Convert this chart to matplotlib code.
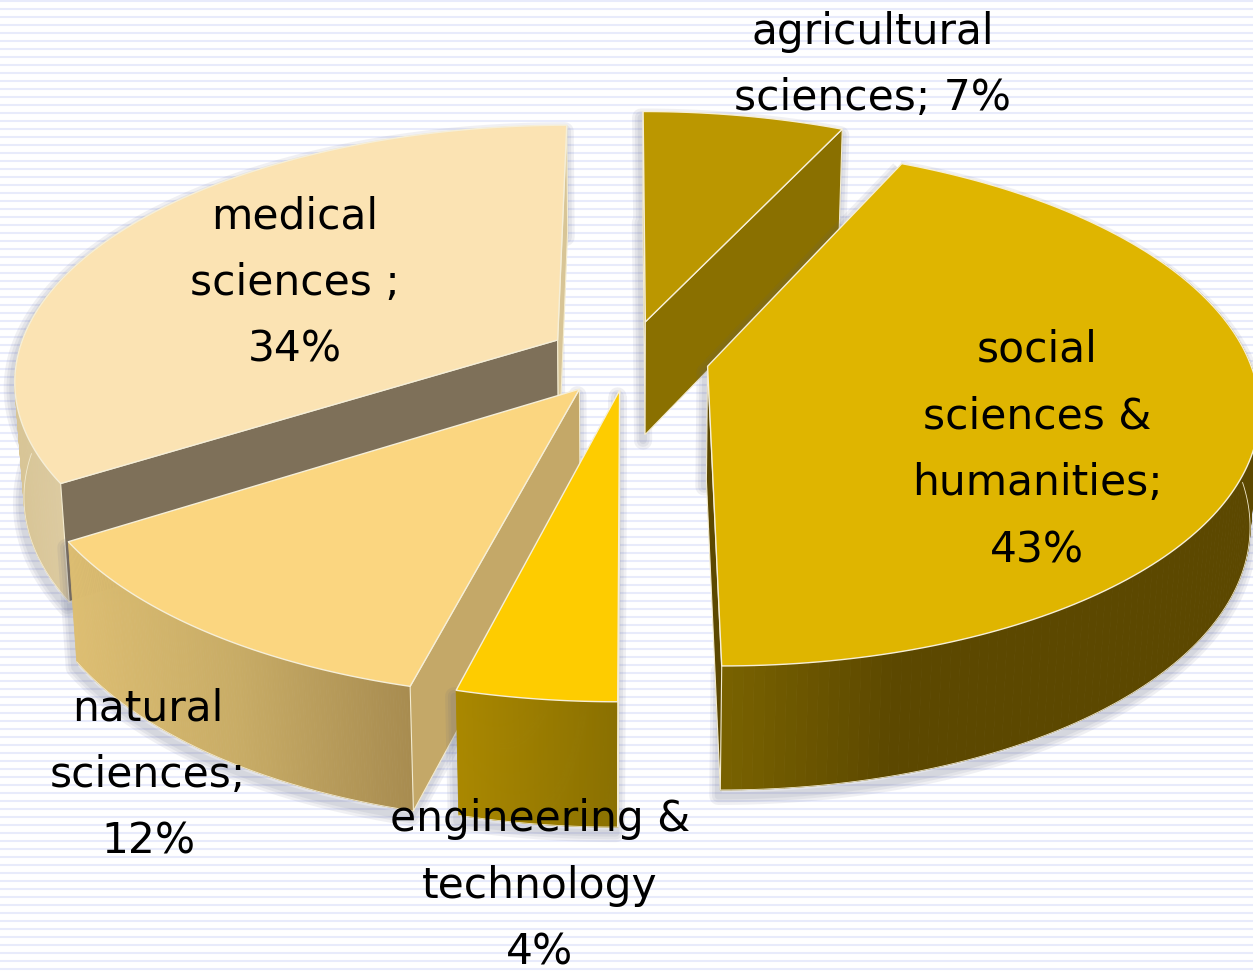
# 3D exploded pie of publications by field of science
import numpy as np
import matplotlib
matplotlib.use('Agg')
import matplotlib.pyplot as plt
from matplotlib.colors import LinearSegmentedColormap
from matplotlib.patches import Polygon

# data, clockwise from 12 o'clock
fields = ['agricultural', 'social', 'engineering', 'natural', 'medical']
values = [7, 43, 4, 12, 34]
labels = ['agricultural\nsciences; {}%', 'social\nsciences &\nhumanities;\n{}%',
          'engineering &\ntechnology\n{}%', 'natural\nsciences;\n{}%', 'medical\nsciences ;\n{}%']

# styles
top_colors = {'agricultural': '#BB9700', 'social': '#DFB500', 'engineering': '#FECC00',
              'natural': '#FBD680', 'medical': '#FBE3B3'}
cut_colors = {'agricultural': '#8A7000', 'social': '#5C4800', 'engineering': '#8A7000',
              'natural': '#C4A868', 'medical': '#7E7059'}
end_colors = {'agricultural': '#8A7000', 'social': '#5C4800', 'engineering': '#8A7000',
              'natural': '#C4A868', 'medical': '#D8C596'}
rim_colors = {'agricultural': ['#8A7000', '#8A7000'],
              'social': ['#7A6300', '#5C4800', '#5C4800', '#5C4800'],
              'engineering': ['#AA8800', '#8A7000'],
              'natural': ['#DDBE72', '#C8AC66', '#A88C50'],
              'medical': ['#D8C596', '#DCCAA0']}
label_pos = {'agricultural': (873, 65), 'social': (1037, 450), 'engineering': (540, 886),
             'natural': (148, 775), 'medical': (295, 283)}
draw_order = ['agricultural', 'medical', 'social', 'natural', 'engineering']
# the engineering slice sits a little higher in the picture
slice_shift = {'engineering': (2, -6)}

# projection of the disk
CX, CY = 628, 358
R, RY = 541, 252
PERSP = 0.15
DEPTH = 114
EXPLODE = 0.15


def project(u, v, low=False):
    p = 1 / (1 + PERSP * v)
    x = CX + R * u * p
    y = CY - RY * v * p
    if low:
        x = CX + (x - CX) * 0.985
        y = y + DEPTH * p ** 0.5
    return x, y


fig = plt.figure(figsize=(12.53, 9.77), dpi=100)
ax = fig.add_axes([0, 0, 1, 1])
ax.set_xlim(0, 1253)
ax.set_ylim(977, 0)
ax.axis('off')

# striped background
for y in np.arange(1, 977, 8):
    ax.axhline(y, color='#E8EBFB', lw=1.5, zorder=0)

fractions = np.array(values) / sum(values)
ends = np.cumsum(fractions) * 2 * np.pi
starts = ends - fractions * 2 * np.pi
angles = {f: (s, e) for f, s, e in zip(fields, starts, ends)}

z = 1
for f in draw_order:
    a0, a1 = angles[f]
    mid = (a0 + a1) / 2
    ou, ov = EXPLODE * np.sin(mid), EXPLODE * np.cos(mid)
    th = np.linspace(a0, a1, 160)
    u = ou + np.sin(th)
    v = ov + np.cos(th)
    dx, dy = slice_shift.get(f, (0, 0))
    xt, yt = project(u, v)
    xb, yb = project(u, v, low=True)
    xt, yt, xb, yb = xt + dx, yt + dy, xb + dx, yb + dy
    ax_t, ay_t = project(ou, ov)
    ax_b, ay_b = project(ou, ov, low=True)
    ax_t, ay_t, ax_b, ay_b = ax_t + dx, ay_t + dy, ax_b + dx, ay_b + dy

    # soft shadow, pushed down so the top edges stay clean
    sil = np.vstack([np.column_stack([xt, yt]), np.column_stack([xb, yb])[::-1],
                     [[ax_b, ay_b], [ax_t, ay_t]]])
    for lw in [13, 9, 5]:
        ax.add_patch(Polygon(sil + [-2, 6], closed=True, fill=False, edgecolor='#5A6080',
                             alpha=0.09, lw=lw, joinstyle='round', zorder=z))
    z += 1

    # rim quads, back ones first
    cmap = LinearSegmentedColormap.from_list(f, rim_colors[f])
    front = np.cos(th) < 0.25
    x_lo, x_hi = xt[front].min() if front.any() else 0, xt[front].max() if front.any() else 1
    order = np.argsort(-v[:-1])
    for i in order:
        if v[i] > ov + 0.45:
            continue
        t = (xt[i] - x_lo) / max(x_hi - x_lo, 1)
        quad = [(xt[i], yt[i]), (xt[i + 1], yt[i + 1]), (xb[i + 1], yb[i + 1]), (xb[i], yb[i])]
        ax.add_patch(Polygon(quad, closed=True, facecolor=cmap(np.clip(t, 0, 1)),
                             edgecolor=cmap(np.clip(t, 0, 1)), lw=0.6, zorder=z))
    z += 1

    # the two cut faces
    for k in [0, -1]:
        quad = [(ax_t, ay_t), (xt[k], yt[k]), (xb[k], yb[k]), (ax_b, ay_b)]
        ny = -np.sin(th[k]) if k == -1 else np.sin(th[k])
        # skip faces turned away from the viewer
        if ny > 0.02:
            continue
        color = cut_colors[f] if k == 0 else end_colors[f]
        ax.add_patch(Polygon(quad, closed=True, facecolor=color,
                             edgecolor='#F3EBD0', lw=0.8, zorder=z))
    z += 1

    # lower rim outline and top surface
    low_edge = np.cos(th) < 0
    ax.plot(xb[low_edge], yb[low_edge], color='#F3EBD0', lw=0.6, zorder=z)
    z += 1
    top = np.vstack([[[ax_t, ay_t]], np.column_stack([xt, yt])])
    ax.add_patch(Polygon(top, closed=True, facecolor=top_colors[f], edgecolor='#F6EFD8',
                         lw=1.0, joinstyle='round', zorder=z))
    z += 1

for f, val, lab in zip(fields, values, labels):
    x, y = label_pos[f]
    ax.text(x, y, lab.format(val), ha='center', va='center', fontsize=30.5,
            color='black', linespacing=1.75, family='DejaVu Sans', zorder=z)

fig.savefig('out.png', dpi=100)
